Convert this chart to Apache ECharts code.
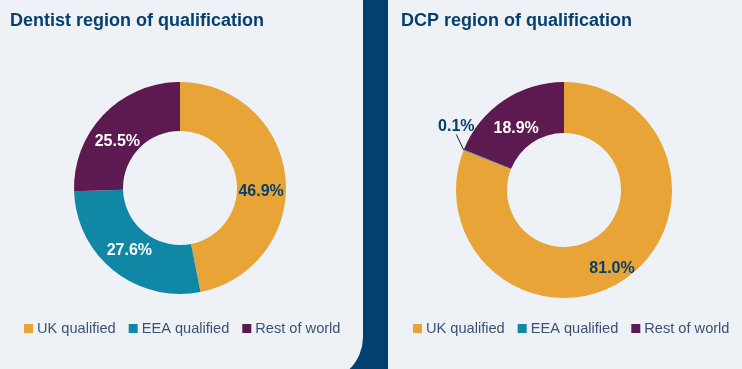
<!DOCTYPE html>
<html><head><meta charset="utf-8">
<script src="https://cdn.jsdelivr.net/npm/echarts@6/dist/echarts.min.js"></script>
<style>html,body{margin:0;padding:0;background:#003f6e;}#c{width:742px;height:369px;}</style>
</head><body><div id="c"></div>
<script>
const categories = ['UK qualified', 'EEA qualified', 'Rest of world'];
const dentistValues = [46.9, 27.6, 25.5];
const dcpValues = [81.0, 0.1, 18.9];
const titles = ['Dentist region of qualification', 'DCP region of qualification'];
const colors = ['#e8a436', '#0f87a5', '#5c1a51'];

const NAVY = '#033f6f';
const BG = '#eef2f7';
const FONT = '"Liberation Sans", Arial, Helvetica, sans-serif';

// label nudges (styling only)
const dentistLabelOffsets = [[-3, 12], [2, -4], [-2, 12]];
const dcpLabelOffsets = [[0, 8], [0, 0], [0, 9]];

function mkData(vals, outsideIdx, offsets) {
  return vals.map((v, i) => {
    const d = { name: categories[i], value: v, itemStyle: { color: colors[i] } };
    d.label = { color: i === 0 ? NAVY : '#ffffff', offset: offsets[i] };
    if (i === outsideIdx) {
      d.label = { position: 'outside', color: NAVY };
      d.labelLine = { show: true, length: 9, length2: 0, lineStyle: { color: '#1a1a1a', width: 1 } };
    }
    return d;
  });
}

const chart = echarts.init(document.getElementById('c'), null, { renderer: 'canvas' });
const labelBase = { show: true, position: 'inside', fontFamily: FONT, fontWeight: 'bold', fontSize: 16,
  formatter: p => p.value.toFixed(1) + '%' };

chart.setOption({
  backgroundColor: NAVY,
  animation: false,
  graphic: [
    { type: 'rect', z: -10, shape: { x: 0, y: 0, width: 363, height: 382, r: [0, 0, 45, 0] }, style: { fill: BG } },
    { type: 'rect', z: -10, shape: { x: 388, y: 0, width: 354, height: 369 }, style: { fill: BG } }
  ],
  title: [
    { text: titles[0], left: 10, top: 12, padding: 0, textStyle: { fontFamily: FONT, fontSize: 18, fontWeight: 'bold', color: NAVY } },
    { text: titles[1], left: 401, top: 12, padding: 0, textStyle: { fontFamily: FONT, fontSize: 18, fontWeight: 'bold', color: NAVY } }
  ],
  legend: [
    { data: categories, left: 24, top: 321, icon: 'rect', itemWidth: 9, itemHeight: 9, itemGap: 13, padding: 0,
      textStyle: { fontFamily: FONT, fontSize: 14.6, color: '#3a5372', padding: [0, 0, 0, -1] }, selectedMode: false },
    { data: categories, left: 413, top: 321, icon: 'rect', itemWidth: 9, itemHeight: 9, itemGap: 13, padding: 0,
      textStyle: { fontFamily: FONT, fontSize: 14.6, color: '#3a5372', padding: [0, 0, 0, -1] }, selectedMode: false }
  ],
  series: [
    { type: 'pie', center: [180, 188], radius: [57, 106], startAngle: 90, clockwise: true,
      avoidLabelOverlap: false, label: labelBase, labelLine: { show: false },
      emphasis: { disabled: true }, data: mkData(dentistValues, -1, dentistLabelOffsets) },
    { type: 'pie', center: [564, 190], radius: [57, 108], startAngle: 90, clockwise: true,
      avoidLabelOverlap: false, label: labelBase, labelLine: { show: false },
      emphasis: { disabled: true }, data: mkData(dcpValues, 1, dcpLabelOffsets),
      labelLayout: function (p) {
        if (p.dataIndex === 1 && p.labelLinePoints) {
          const end = p.labelLinePoints[p.labelLinePoints.length - 1];
          return { x: end[0] + 1, y: end[1] - 20, align: 'center', verticalAlign: 'middle' };
        }
      } }
  ]
});
</script></body></html>
